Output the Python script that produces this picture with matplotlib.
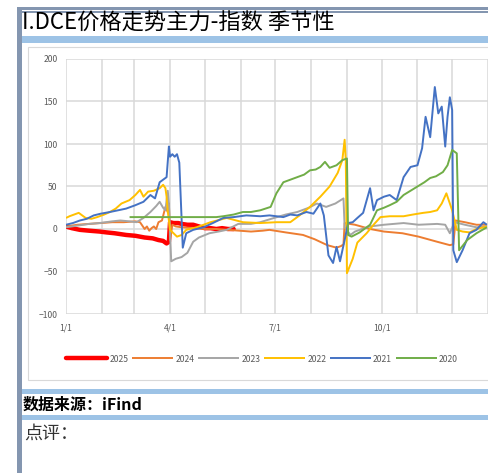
import matplotlib
matplotlib.use("Agg")
import matplotlib.pyplot as plt
from matplotlib.patches import Rectangle

plt.rcParams['font.family'] = ['Noto Sans CJK SC', 'DejaVu Sans']

# day of year -> spread vs index
days_2025 = [0, 5, 12, 20, 29, 35, 42, 52, 60, 68, 75, 80, 84, 87, 89, 90, 93, 97, 100, 105, 110, 115, 120, 125, 130, 135, 140, 145]
vals_2025 = [3, 1, -1, -2, -3, -4, -5, -7, -8, -10, -11, -13, -14, -17, -15, 8, 7, 7, 6, 5, 5, 3, 1, 1, 0, 1, 0, 0]

days_2024 = [0, 10, 20, 30, 40, 50, 60, 64, 68, 70, 72, 74, 76, 78, 80, 83, 86, 88, 89, 90, 92, 95, 100, 110, 120, 130, 140, 150, 160, 170, 176,
             190, 205, 215, 226, 234, 238, 240, 241, 250, 263, 275, 291, 305, 321, 332, 335, 337, 345, 355, 364]
vals_2024 = [3, 5, 6, 7, 8, 8, 9, 8, 0, 3, -2, 1, 3, 0, 8, 10, 26, 20, 30, -13, 5, 3, 2, 1, 0, 0, -1, -2, -3, -2, -1,
             -4, -7, -12, -19, -22, -20, -18, 7, 5, 0, -3, -5, -9, -15, -19, -18, 10, 8, 5, 5]

days_2023 = [0, 10, 20, 29, 40, 47, 55, 61, 67, 73, 78, 81, 84, 86, 88, 89, 91, 95, 100, 105, 110, 115, 124, 132, 139, 149, 160, 168, 180,
             190, 200, 210, 217, 225, 233, 240, 241, 246, 250, 256, 263, 275, 292, 305, 321, 328, 332, 336, 345, 355, 364]
vals_2023 = [2, 4, 6, 7, 9, 10, 9, 8, 13, 20, 27, 32, 25, 22, 45, 30, -38, -35, -33, -28, -15, -10, -5, -3, -1, 6, 6, 8, 13,
             17, 20, 25, 30, 26, 30, 36, 2, -7, -3, 0, 3, 5, 7, 5, 6, 5, -5, 8, 5, 2, 3]

days_2022 = [0, 3, 7, 11, 17, 22, 27, 33, 38, 43, 48, 55, 60, 64, 67, 71, 76, 81, 84, 86, 87, 88, 90, 96, 100, 104, 113, 125, 139, 153, 168,
             182, 194, 202, 211, 220, 228, 235, 239, 241, 242, 243, 248, 252, 260, 266, 272, 280, 292, 300, 309, 315, 321, 325, 329, 334, 338,
             343, 349, 355, 364]
vals_2022 = [13, 15, 17, 19, 13, 12, 14, 17, 20, 24, 30, 34, 40, 46, 38, 44, 45, 48, 52, 48, 38, 21, -1, -9, -7, -1, 2, 8, 13, 8, 7,
             8, 8, 16, 26, 38, 50, 66, 81, 105, 81, -52, -35, -16, -5, 5, 14, 15, 15, 17, 19, 20, 22, 30, 42, 22, -1,
             -3, -4, 0, 3]

days_2021 = [0, 6, 12, 18, 24, 30, 38, 45, 52, 60, 67, 73, 77, 81, 87, 89, 90, 92, 94, 96, 98, 101, 104, 110, 119, 127, 136, 145, 156, 168,
             176, 182, 188, 194, 200, 208, 214, 220, 223, 227, 231, 234, 237, 241, 244, 248, 252, 257, 263, 266, 269, 275, 280, 286, 292,
             298, 304, 308, 311, 315, 319, 322, 325, 328, 330, 332, 334, 335, 338, 343, 349, 355, 361, 364]
vals_2021 = [5, 7, 10, 12, 16, 18, 20, 22, 24, 28, 32, 40, 36, 55, 61, 97, 85, 88, 85, 88, 78, -22, -5, -1, 2, 7, 13, 14, 16, 15,
             16, 15, 14, 17, 16, 20, 18, 30, 16, -31, -40, -21, -38, -13, 7, 8, 13, 19, 48, 22, 34, 38, 40, 34, 61,
             73, 75, 95, 132, 108, 167, 136, 144, 97, 132, 155, 140, -25, -39, -25, -5, -1, 8, 5]

days_2020 = [55, 70, 90, 110, 130, 136, 145, 153, 160, 168, 177, 182, 188, 194, 200, 206, 211, 216, 220, 224, 228, 234, 239, 243, 244, 247,
             254, 263, 269, 275, 280, 286, 292, 298, 304, 310, 315, 320, 326, 330, 334, 338, 340, 347, 355, 364]
vals_2020 = [14, 14, 14, 14, 14, 15, 17, 20, 20, 22, 26, 42, 55, 58, 61, 64, 69, 70, 73, 79, 72, 75, 81, 83, -7, -9,
             -4, 5, 22, 25, 28, 32, 40, 45, 50, 55, 60, 62, 67, 75, 93, 89, -25, -13, -5, 2]

years = ['2025', '2024', '2023', '2022', '2021', '2020']
series_days = [days_2025, days_2024, days_2023, days_2022, days_2021, days_2020]
series_vals = [vals_2025, vals_2024, vals_2023, vals_2022, vals_2021, vals_2020]
colors = ['#FF0000', '#ED7D31', '#A5A5A5', '#FFC000', '#4472C4', '#70AD47']
widths = [3.2, 1.4, 1.4, 1.4, 1.4, 1.4]

x_ticks = [0, 90, 181, 273]
x_labels = ['1/1', '4/1', '7/1', '10/1']
month_starts = [0, 31, 59, 90, 120, 151, 181, 212, 243, 273, 304, 334, 365]

W, H = 489, 473
fig = plt.figure(figsize=(W / 100, H / 100), dpi=100)

# page decoration in pixel coordinates
bg = fig.add_axes([0, 0, 1, 1])
bg.set_xlim(0, W)
bg.set_ylim(H, 0)
bg.axis('off')
frame_c = '#8496B0'
band_c = '#9DC3E6'
bg.add_patch(Rectangle((17, 7), W - 17, 2.6, color=frame_c, lw=0))
bg.add_patch(Rectangle((22, 11), W - 22, 2.4, color=frame_c, lw=0))
bg.add_patch(Rectangle((17, 7), 5, H - 7, color=frame_c, lw=0))
bg.add_patch(Rectangle((22, 36), W - 22, 7, color=band_c, lw=0))
bg.add_patch(Rectangle((28, 47), W - 28, 333, facecolor='white', edgecolor='#D9D9D9', lw=0.8))
bg.add_patch(Rectangle((22, 389), W - 22, 4.5, color=band_c, lw=0))
bg.add_patch(Rectangle((22, 415), W - 22, 5, color=band_c, lw=0))
bg.text(22, 23, 'I.DCE价格走势主力-指数 季节性', fontsize=16, va='center', ha='left', color='black')
bg.text(23, 405, '数据来源：iFind', fontsize=11.5, fontweight='bold', va='center', ha='left', color='black')
bg.text(24, 434, '点评：', fontsize=13, va='center', ha='left', color='#333333')

ax = fig.add_axes([66 / W, 1 - 314 / H, 422 / W, 255 / H])
ax.patch.set_alpha(0)
for d, v, c, lw, yr in zip(series_days, series_vals, colors, widths, years):
    ax.plot(d, v, color=c, lw=lw, label=yr, solid_capstyle='round' if yr == '2025' else 'butt')

ax.set_xlim(0, 365)
ax.set_ylim(-100, 200)
ax.set_yticks(range(-100, 201, 50))
ax.set_xticks(x_ticks)
ax.set_xticklabels(x_labels)
ax.set_xticks(month_starts, minor=True)
ax.grid(True, which='both', axis='x', color='#D9D9D9', lw=1.1)
ax.grid(True, which='major', axis='y', color='#D9D9D9', lw=1.1)
ax.set_axisbelow(True)
for s in ax.spines.values():
    s.set_visible(False)
ax.tick_params(which='both', length=0, labelsize=6.2, labelcolor='#595959')
ax.tick_params(axis='y', pad=6)
ax.tick_params(axis='x', pad=7)

fig.legend(loc='center', bbox_to_anchor=(262 / W, 1 - 359 / H), ncol=6, frameon=False,
           fontsize=6.2, handlelength=4.8, handletextpad=0.25, columnspacing=0.4, labelcolor='#595959')

fig.savefig('out.png', dpi=100)
